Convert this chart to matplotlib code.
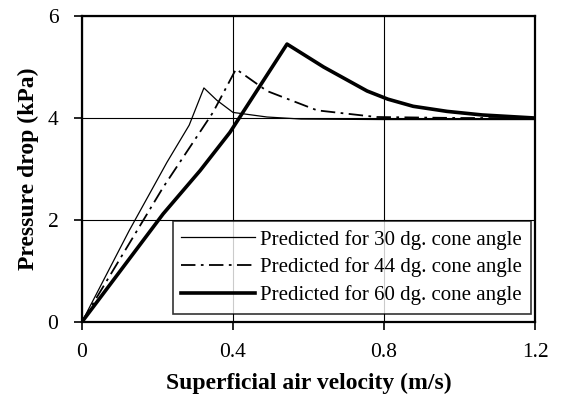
import numpy as np
import matplotlib
matplotlib.use('Agg')
import matplotlib.pyplot as plt

plt.rcParams['font.family'] = ['Liberation Serif', 'DejaVu Serif']

# 30 dg cone angle
v30 = [0, 0.125, 0.225, 0.284, 0.323, 0.357, 0.40, 0.49, 0.58, 0.80, 1.0, 1.2]
p30 = [0, 1.79, 3.13, 3.86, 4.59, 4.35, 4.11, 4.02, 3.98, 3.97, 3.97, 3.97]

# 44 dg cone angle
v44 = [0, 0.215, 0.347, 0.408, 0.49, 0.623, 0.78, 1.0, 1.2]
p44 = [0, 2.64, 4.11, 4.96, 4.53, 4.15, 4.02, 4.0, 4.0]

# 60 dg cone angle
v60 = [0, 0.215, 0.313, 0.392, 0.543, 0.64, 0.755, 0.81, 0.877, 0.967, 1.06, 1.2]
p60 = [0, 2.12, 2.97, 3.72, 5.45, 5.0, 4.53, 4.37, 4.23, 4.13, 4.06, 4.0]

labels = ['Predicted for 30 dg. cone angle',
          'Predicted for 44 dg. cone angle',
          'Predicted for 60 dg. cone angle']

fig = plt.figure(figsize=(5.61, 4.01), dpi=100)
ax = fig.add_axes([0.146, 0.197, 0.808, 0.763])

ax.plot(v30, p30, color='black', lw=0.9, label=labels[0])
ax.plot(v44, p44, color='black', lw=1.3, dashes=(8, 3, 1.5, 3), label=labels[1])
ax.plot(v60, p60, color='black', lw=2.6, label=labels[2])

ax.set_xlim(0, 1.2)
ax.set_ylim(0, 6)
ax.set_xticks([0, 0.4, 0.8, 1.2])
ax.set_xticklabels(['0', '0.4', '0.8', '1.2'])
ax.set_yticks([0, 2, 4, 6])
ax.grid(True, color='black', lw=0.8)
ax.set_axisbelow(True)

for s in ax.spines.values():
    s.set_linewidth(1.6)
    s.set_color('black')

ax.tick_params(direction='out', length=6, width=1.2, labelsize=15.5)
ax.tick_params(axis='x', pad=9)
ax.tick_params(axis='y', pad=11)
ax.set_xlabel('Superficial air velocity (m/s)', fontsize=17, fontweight='bold', labelpad=8)
ax.set_ylabel('Pressure drop (kPa)', fontsize=17, fontweight='bold', labelpad=6)

leg = ax.legend(loc='lower right', bbox_to_anchor=(0.991, 0.026), fontsize=15,
                frameon=True, fancybox=False, edgecolor='black',
                handlelength=3.55, handletextpad=0.25, labelspacing=0.38,
                borderpad=0.42, borderaxespad=0)
leg.get_frame().set_linewidth(1.2)

fig.savefig('out.png', dpi=100)
